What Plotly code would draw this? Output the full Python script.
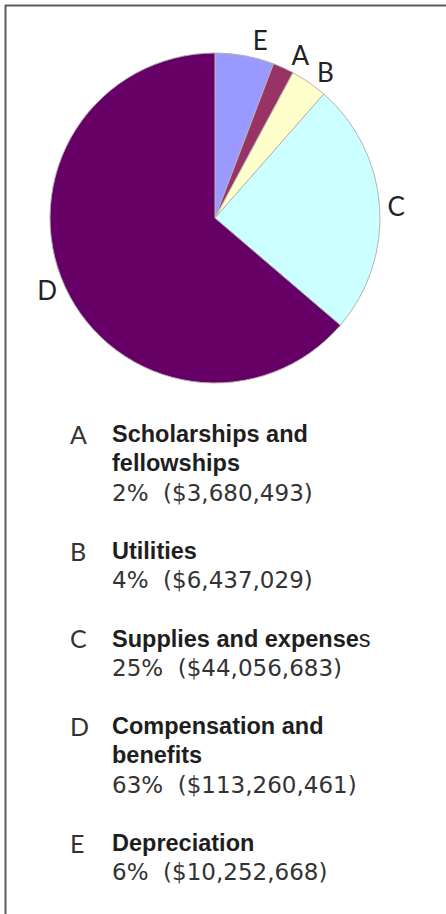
import plotly.graph_objects as go

# ---- data ----
letters = ["A", "B", "C", "D", "E"]
names = ["Scholarships and<br>fellowships", "Utilities", "Supplies and expense",
         "Compensation and<br>benefits", "Depreciation"]
name_tail = ["", "", "s", "", ""]
percents = [2, 4, 25, 63, 6]
amounts = [3680493, 6437029, 44056683, 113260461, 10252668]
colors = ["#993366", "#FFFFCC", "#CCFFFF", "#660066", "#9999FF"]
pie_order = ["E", "A", "B", "C", "D"]  # clockwise from 12 o'clock

W, H = 446, 914

idx = [letters.index(k) for k in pie_order]
pie_labels = [letters[i] for i in idx]
pie_values = [amounts[i] for i in idx]
pie_colors = [colors[i] for i in idx]
domain = dict(x=[50 / W, 380 / W], y=[1 - 383 / H, 1 - 53 / H])
label_font = dict(family="Lato", size=26, color="#222222")

# labels split over identical pies so plotly never pushes them apart
groups = [{"E", "C"}, {"A", "D"}, {"B"}]

fig = go.Figure()
for gi, grp in enumerate(groups):
    first = gi == 0
    fig.add_trace(go.Pie(
        labels=pie_labels, values=pie_values, text=pie_labels,
        textinfo="text",
        textposition=["outside" if l in grp else "none" for l in pie_labels],
        sort=False, direction="clockwise", rotation=0,
        marker=dict(colors=pie_colors if first else ["rgba(0,0,0,0)"] * len(pie_labels),
                    line=dict(color="#b4b4b4", width=1) if first else dict(width=0)),
        outsidetextfont=label_font, domain=domain, showlegend=False,
        hoverinfo="label+value+percent" if first else "skip",
    ))

annotations = []
spacing = 29.2
base0 = 442
k = 0
reg_size = 23
bold_size = 23.5
let_size = 25


def ypos(baseline, size):
    return 1 - (baseline - 0.33 * size) / H


for i, L in enumerate(letters):
    b = base0 + spacing * k
    annotations.append(dict(
        x=68 / W, y=ypos(b, let_size), xref="paper", yref="paper", xanchor="left", yanchor="middle",
        text=L, showarrow=False, font=dict(family="Lato", size=let_size, color="#333333")))
    name_lines = names[i].split("<br>")
    for j, nl in enumerate(name_lines):
        b = base0 + spacing * k
        txt = "<b>" + nl + "</b>"
        if j == len(name_lines) - 1 and name_tail[i]:
            txt += name_tail[i]
        annotations.append(dict(
            x=110 / W, y=ypos(b, bold_size), xref="paper", yref="paper", xanchor="left",
            yanchor="middle", text=txt, showarrow=False,
            font=dict(family="Liberation Sans", size=bold_size, color="#1e1e1e")))
        k += 1
    b = base0 + spacing * k
    annotations.append(dict(
        x=110 / W, y=ypos(b, reg_size), xref="paper", yref="paper", xanchor="left",
        yanchor="middle", text=f"{percents[i]}%  (${amounts[i]:,})", showarrow=False,
        font=dict(family="DejaVu Sans", size=reg_size, color="#333333")))
    k += 2

shapes = [
    dict(type="line", xref="paper", yref="paper", x0=5 / W, x1=1, y0=1 - 5.5 / H, y1=1 - 5.5 / H,
         line=dict(color="#5a5a5a", width=2)),
    dict(type="line", xref="paper", yref="paper", x0=5.5 / W, x1=5.5 / W, y0=0, y1=1 - 5 / H,
         line=dict(color="#5a5a5a", width=2)),
]

fig.update_layout(
    width=W, height=H,
    margin=dict(l=0, r=0, t=0, b=0),
    paper_bgcolor="white", plot_bgcolor="white",
    annotations=annotations, shapes=shapes,
)

fig.write_html("out.html")
